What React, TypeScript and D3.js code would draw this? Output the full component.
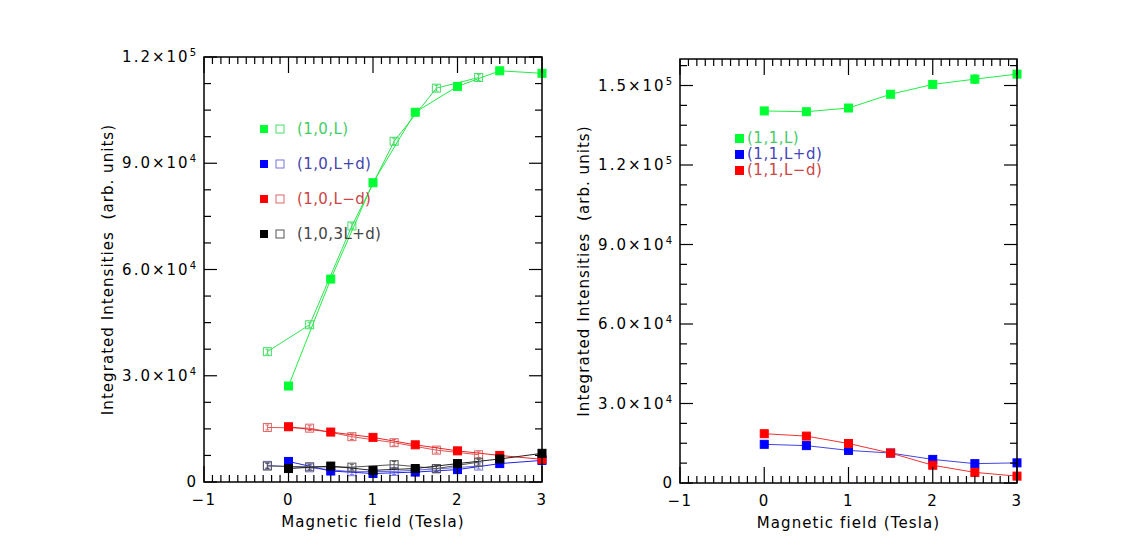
import React from "react";
import * as d3 from "d3";

// ---------- data ----------
const xFilled = [0, 0.5, 1, 1.5, 2, 2.5, 3];
const xOpen = [-0.25, 0.25, 0.75, 1.25, 1.75, 2.25];

// left panel (1,0,*)
const greenFilledL = [27100, 57300, 84500, 104400, 111700, 116100, 115400];
const greenOpenL = [36800, 44400, 72300, 96200, 111200, 114200];
const blueFilledL = [5800, 3100, 2400, 2800, 3500, 5200, 6100];
const blueOpenL = [4700, 4000, 2900, 3000, 3700, 4500];
const redFilledL = [15600, 14100, 12600, 10500, 8800, 7500, 6400];
const redOpenL = [15400, 15200, 12800, 11100, 9000, 7700];
const blackFilledL = [3800, 4500, 3300, 3800, 5200, 6500, 8100];
const blackOpenL = [4500, 4300, 4200, 4900, 3800, 5600];
const errOpenL = [700, 700, 800, 900, 800, 800];

// right panel (1,1,*)
const greenR = [140400, 140100, 141500, 146700, 150400, 152400, 154300];
const redR = [18600, 17700, 14900, 11300, 6700, 4000, 2600];
const blueR = [14600, 14100, 12300, 11300, 8900, 7300, 7600];
const errGreenR = [600, 600, 700, 700, 800, 1600, 900];

const xTicks = [-1, 0, 1, 2, 3];
const yTicksL = [0, 30000, 60000, 90000, 120000];
const yTicksR = [0, 30000, 60000, 90000, 120000, 150000];

const legendL = ["(1,0,L)", "(1,0,L+d)", "(1,0,L\u2212d)", "(1,0,3L+d)"];
const legendR = ["(1,1,L)", "(1,1,L+d)", "(1,1,L\u2212d)"];

const FONT = "DejaVu Sans, sans-serif";
const FW = 400;

type Series = {
  xs: number[];
  ys: number[];
  err?: number[];
  color: string;
  lineColor: string;
  open: boolean;
};

function fmtLabel(v: number) {
  if (v === 0) return { m: "0", e: "" };
  const e = Math.floor(Math.log10(v));
  const m = (v / Math.pow(10, e)).toFixed(1);
  return { m: m + "\u00d710", e: String(e) };
}

function Panel(props: {
  x0: number;
  x1: number;
  y0: number;
  y1: number;
  yMax: number;
  yTicks: number[];
  series: Series[];
  legend: React.ReactNode;
}) {
  const { x0, x1, y0, y1, yMax, yTicks, series } = props;
  const x = d3.scaleLinear().domain([-1, 3]).range([x0, x1]);
  const y = d3.scaleLinear().domain([0, yMax]).range([y1, y0]);
  const minorX = d3.range(-1, 3.0001, 0.1).map((v) => Math.round(v * 10) / 10);
  const minorY = d3.range(0, yMax + 1, 7500);
  const line = d3
    .line<[number, number]>()
    .x((d) => x(d[0]))
    .y((d) => y(d[1]));
  const ms = 8;
  return (
    <g>
      {series.map((s, i) => {
        const pts = s.xs.map((xv, j) => [xv, s.ys[j]] as [number, number]);
        return (
          <g key={i}>
            <path d={line(pts) || ""} fill="none" stroke={s.lineColor} strokeWidth={1} />
            {pts.map((p, j) => (
              <rect
                key={j}
                x={x(p[0]) - ms / 2}
                y={y(p[1]) - ms / 2}
                width={ms}
                height={ms}
                fill={s.open ? "none" : s.color}
                stroke={s.color}
                strokeWidth={1}
              />
            ))}
            {s.err &&
              pts.map((p, j) => {
                const e = s.err![j];
                const cx = x(p[0]);
                return (
                  <g key={"e" + j} stroke={s.color} strokeWidth={1}>
                    <line x1={cx} x2={cx} y1={y(p[1] - e)} y2={y(p[1] + e)} />
                    <line x1={cx - 2} x2={cx + 2} y1={y(p[1] - e)} y2={y(p[1] - e)} />
                    <line x1={cx - 2} x2={cx + 2} y1={y(p[1] + e)} y2={y(p[1] + e)} />
                  </g>
                );
              })}
          </g>
        );
      })}
      <rect x={x0} y={y0} width={x1 - x0} height={y1 - y0} fill="none" stroke="#000" strokeWidth={1.5} />
      {minorX.map((v, i) => {
        const major = xTicks.includes(v);
        const len = major ? 16 : 7;
        return (
          <g key={"xt" + i} stroke="#000" strokeWidth={1.2}>
            <line x1={x(v)} x2={x(v)} y1={y1} y2={y1 - len} />
            <line x1={x(v)} x2={x(v)} y1={y0} y2={y0 + len} />
          </g>
        );
      })}
      {minorY.map((v, i) => {
        const major = yTicks.includes(v);
        const len = major ? 13 : 7;
        return (
          <g key={"yt" + i} stroke="#000" strokeWidth={1.2}>
            <line x1={x0} x2={x0 + len} y1={y(v)} y2={y(v)} />
            <line x1={x1} x2={x1 - len} y1={y(v)} y2={y(v)} />
          </g>
        );
      })}
      {xTicks.map((v) => (
        <text
          key={"xl" + v}
          x={x(v)}
          y={y1 + 23}
          textAnchor="middle"
          fontFamily={FONT}
          fontWeight={FW}
          fontSize={15}
          fill="#000"
          letterSpacing={1.5}
        >
          {v < 0 ? "\u2212" + Math.abs(v) : String(v)}
        </text>
      ))}
      <text
        x={(x0 + x1) / 2}
        y={y1 + 45}
        textAnchor="middle"
        fontFamily={FONT}
        fontWeight={FW}
        fontSize={15}
        fill="#000"
        letterSpacing={1.1}
      >
        Magnetic field (Tesla)
      </text>
      {yTicks.map((v) => {
        const f = fmtLabel(v);
        return (
          <text
            key={"yl" + v}
            x={x0 - 6}
            y={y(v) + 5}
            textAnchor="end"
            fontFamily={FONT}
            fontWeight={FW}
            fontSize={15}
            fill="#000"
            letterSpacing={2}
          >
            {f.m}
            {f.e && (
              <tspan dy={-6} fontSize={10}>
                {f.e}
              </tspan>
            )}
          </text>
        );
      })}
      <text
        transform={`translate(${x0 - 91},${(y0 + y1) / 2}) rotate(-90)`}
        textAnchor="middle"
        fontFamily={FONT}
        fontWeight={FW}
        fontSize={15}
        fill="#000"
        letterSpacing={1.05}
        style={{ whiteSpace: "pre" }}
      >
        {"Integrated Intensities  (arb. units)"}
      </text>
      {props.legend}
    </g>
  );
}

export default function App() {
  const seriesL: Series[] = [
    { xs: xOpen, ys: greenOpenL, err: errOpenL, color: "#44dd66", lineColor: "#33e055", open: true },
    { xs: xFilled, ys: greenFilledL, color: "#00ff33", lineColor: "#22ee44", open: false },
    { xs: xOpen, ys: blueOpenL, err: errOpenL, color: "#7777dd", lineColor: "#6666dd", open: true },
    { xs: xFilled, ys: blueFilledL, color: "#0000ff", lineColor: "#2222ee", open: false },
    { xs: xOpen, ys: redOpenL, err: errOpenL, color: "#dd6666", lineColor: "#dd5555", open: true },
    { xs: xFilled, ys: redFilledL, color: "#ff0000", lineColor: "#ee2222", open: false },
    { xs: xOpen, ys: blackOpenL, err: errOpenL, color: "#555555", lineColor: "#555555", open: true },
    { xs: xFilled, ys: blackFilledL, color: "#000000", lineColor: "#222222", open: false },
  ];
  const seriesR: Series[] = [
    { xs: xFilled, ys: greenR, err: errGreenR, color: "#00ff33", lineColor: "#22ee44", open: false },
    { xs: xFilled, ys: blueR, color: "#0000ff", lineColor: "#4444dd", open: false },
    { xs: xFilled, ys: redR, color: "#ff0000", lineColor: "#ee3333", open: false },
  ];
  const legColorsL = ["#00ff33", "#0000ff", "#ff0000", "#000000"];
  const legOpenL = ["#44dd66", "#7777dd", "#dd6666", "#555555"];
  const legTextL = ["#44cc66", "#4444aa", "#cc4444", "#444444"];
  const legRowsL = [129, 164, 199, 234];
  const legendLeft = (
    <g>
      {legendL.map((t, i) => (
        <g key={t}>
          <rect x={260} y={legRowsL[i] - 4} width={8} height={8} fill={legColorsL[i]} />
          <rect x={276} y={legRowsL[i] - 4} width={8} height={8} fill="none" stroke={legOpenL[i]} />
          <text x={297} y={legRowsL[i] + 5} fontFamily={FONT} fontWeight={FW} fontSize={15} fill={legTextL[i]} letterSpacing={0.4}>
            {t}
          </text>
        </g>
      ))}
    </g>
  );
  const legRowsR = [138, 154, 170];
  const legColorsR = ["#00ff33", "#0000ff", "#ff0000"];
  const legTextR = ["#44cc66", "#4444bb", "#cc4444"];
  const legendRight = (
    <g>
      {legendR.map((t, i) => (
        <g key={t}>
          <rect x={735} y={legRowsR[i] - 4} width={9} height={9} fill={legColorsR[i]} />
          <text x={747} y={legRowsR[i] + 5} fontFamily={FONT} fontWeight={FW} fontSize={15} fill={legTextR[i]} letterSpacing={0.5}>
            {t}
          </text>
        </g>
      ))}
    </g>
  );
  return (
    <svg width={1129} height={556} style={{ position: "absolute", left: 0, top: 0, background: "#fff" }}>
      <rect width={1129} height={556} fill="#fff" />
      <Panel x0={204} x1={542} y0={57} y1={482} yMax={120000} yTicks={yTicksL} series={seriesL} legend={legendLeft} />
      <Panel x0={680} x1={1017} y0={59} y1={483} yMax={160000} yTicks={yTicksR} series={seriesR} legend={legendRight} />
    </svg>
  );
}
